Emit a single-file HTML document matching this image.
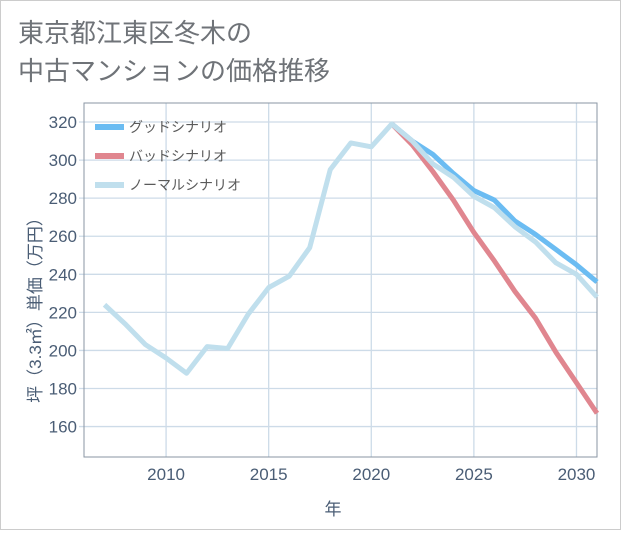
<!DOCTYPE html>
<html><head><meta charset="utf-8"><style>
body{margin:0;background:#fff;}
#wrap{position:relative;width:619px;height:528px;border:1px solid #ccc;background:#fff;font-family:"Liberation Sans","Noto Sans CJK JP",sans-serif;}
</style></head><body>
<div id="wrap">
<svg id="c" width="619" height="528"></svg>
</div>
<script>
const years=[2007,2008,2009,2010,2011,2012,2013,2014,2015,2016,2017,2018,2019,2020,2021,2022,2023,2024,2025,2026,2027,2028,2029,2030,2031];
const normalVals=[224,214,203,196,188,202,201,219,233,239,254,295,309,307,319,310,298,291,281,275,265,257,246,240,228];
const goodYears=[2021,2022,2023,2024,2025,2026,2027,2028,2029,2030,2031];
const goodVals=[319,310,303,293,284,279,268,261,253,245,236];
const badVals=[319,308,294,279,262,247,231,217,199,183,167];
const xTicks=[2010,2015,2020,2025,2030];
const yTicks=[160,180,200,220,240,260,280,300,320];
const NS="http://www.w3.org/2000/svg";
const svg=document.getElementById('c');
const L=83,R=596,T=102,B=456;
const x=v=>L+(v-2006)*(R-L)/25;
const y=v=>B-(v-144)*(B-T)/186;
function mk(t,a){const e=document.createElementNS(NS,t);for(const k in a)e.setAttribute(k,a[k]);svg.appendChild(e);return e;}
function txt(s,a){const e=mk('text',a);e.textContent=s;return e;}
let e;
e=txt('東京都江東区冬木の',{x:17,y:41,'font-size':26,fill:'#6f7378'});


e=txt('中古マンションの価格推移',{x:17,y:79,'font-size':26,fill:'#6f7378'});


for(const v of xTicks){e=mk('line',{x1:x(v),x2:x(v),y1:T,y2:B,stroke:'#cddbe8','stroke-width':1.3});


e=txt(v,{x:x(v),y:479,'font-size':17,fill:'#4a5d75','text-anchor':'middle'});

}
for(const v of yTicks){e=mk('line',{x1:L-5,x2:R,y1:y(v),y2:y(v),stroke:'#cddbe8','stroke-width':1.3});


e=txt(v,{x:L-7,y:y(v)+6,'font-size':17,fill:'#4a5d75','text-anchor':'end'});

}
e=mk('rect',{x:L,y:T,width:R-L,height:B-T,fill:'none',stroke:'#8a96a3',"stroke-width":1});


e=txt('年',{x:332,y:514,'font-size':17,fill:'#4a5d75','text-anchor':'middle'});


e=txt('坪（3.3㎡）単価（万円）',{x:0,y:0,'font-size':17,fill:'#4a5d75','text-anchor':'middle',transform:'translate(40,305) rotate(-90)'});


function line(xs,vs,col,name){const d=xs.map((a,i)=>(i?'L':'M')+x(a)+','+y(vs[i])).join(' ');
const p=mk('path',{d:d,fill:'none',stroke:col,'stroke-width':5,'stroke-linejoin':'round'});

}
line(goodYears,goodVals,'#6bbcf2','good-scenario-line');
line(goodYears,badVals,'#e0868f','bad-scenario-line');
line(years,normalVals,'#c0dfed','normal-scenario-line');
const leg=[['グッドシナリオ','#6bbcf2'],['バッドシナリオ','#e0868f'],['ノーマルシナリオ','#c0dfed']];
leg.forEach((l,i)=>{const yy=126+i*29;
e=mk('rect',{x:94,y:yy-3,width:29,height:6,fill:l[1]});


e=txt(l[0],{x:128,y:yy+5,'font-size':14,fill:'#5a5a5a'});

});
</script>
</body></html>
